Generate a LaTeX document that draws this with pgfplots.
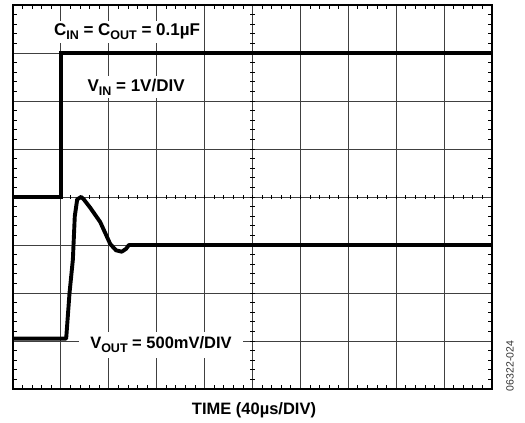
\documentclass[border=0pt]{standalone}
\usepackage{fontspec}
\setmainfont{Liberation Sans}
\usepackage{pgfplots}
\pgfplotsset{compat=1.18}
\newcommand{\sub}[1]{\raisebox{-0.22em}{\fontsize{12.5}{14}\selectfont #1}}
\begin{document}
\begin{tikzpicture}
\useasboundingbox (-13pt,-34pt) rectangle (512pt,389pt);
\begin{axis}[at={(0,0)}, anchor=south west, scale only axis,
  width=479pt, height=384pt,
  xmin=0, xmax=10, ymin=0, ymax=8,
  xtick={0,...,10}, ytick={0,...,8},
  xticklabels={}, yticklabels={},
  minor x tick num=4, minor y tick num=4,
  tick align=inside, major tick length=0pt, minor tick length=4pt,
  minor tick style={line width=0.8pt, black},
  grid=major, major grid style={black!75, line width=0.85pt},
  axis line style={line width=1.6pt, black}]
\pgfplotsinvokeforeach{0.2,0.4,...,9.9}{\draw[line width=0.8pt, black] (axis cs:#1,4) ++(0,-2.2pt) -- ++(0,4.4pt);}
\pgfplotsinvokeforeach{0.2,0.4,...,7.9}{\draw[line width=0.8pt, black] (axis cs:5,#1) ++(-2.2pt,0) -- ++(4.4pt,0);}
% V_IN
\addplot[black, line width=3.9pt, line join=miter] coordinates {(0,4) (1,4) (1,7) (10,7)};
% V_OUT
\addplot[black, line width=3.9pt, line join=round] coordinates {
(0,1.05) (1.11,1.05) (1.18,2.0) (1.25,2.7) (1.29,3.6) (1.34,3.95) (1.42,4.0) (1.47,3.96)
(1.61,3.78) (1.82,3.48) (2.03,3.02) (2.15,2.89) (2.27,2.86) (2.36,2.92) (2.42,3.0) (2.5,3.0) (10,3.0)};
\node[fill=white, inner xsep=4pt, inner ysep=3pt, font=\fontsize{17}{20}\selectfont\bfseries] at (axis cs:2.38,7.44) {C\sub{IN} = C\sub{OUT} = 0.1µF};
\node[fill=white, inner xsep=4pt, inner ysep=3pt, font=\fontsize{17}{20}\selectfont\bfseries] at (axis cs:2.57,6.29) {V\sub{IN} = 1V/DIV};
\node[fill=white, inner xsep=11pt, inner ysep=5pt, font=\fontsize{16.5}{20}\selectfont\bfseries] at (axis cs:3.09,0.92) {V\sub{OUT} = 500mV/DIV};
\end{axis}
\node[font=\fontsize{16.5}{20}\selectfont\bfseries] at (241pt,-21pt) {TIME (40µs/DIV)};
\node[rotate=90, font=\fontsize{10.5}{12}\selectfont, text=black!80] at (497pt,23pt) {06322-024};
\end{tikzpicture}
\end{document}
